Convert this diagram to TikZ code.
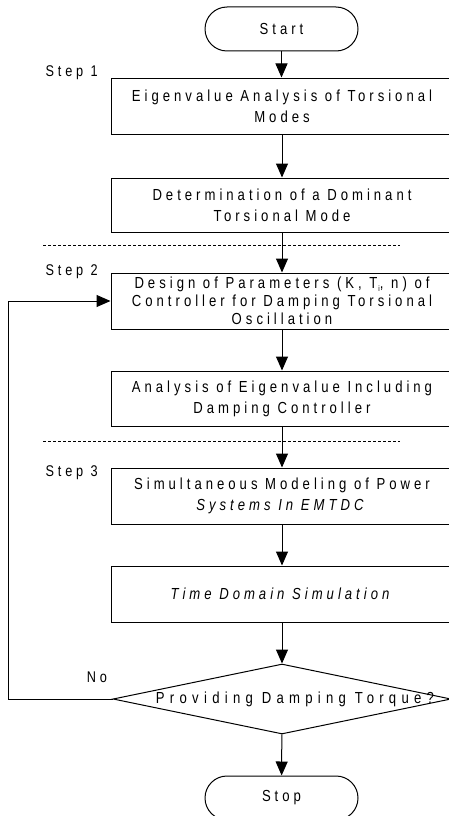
\documentclass[tikz,border=0pt]{standalone}
\usepackage{fontspec}
\setmainfont[LetterSpace=25,FakeStretch=0.82]{Liberation Sans}
\usetikzlibrary{arrows.meta,shapes.geometric}
\begin{document}
\begin{tikzpicture}[x=1pt,y=-1pt,
  line width=1pt,
  arr/.style={-{Triangle[length=14pt,width=12pt]}},
  stepbox/.style={draw,rectangle,minimum width=342pt,minimum height=56pt,inner sep=0pt,align=center,font=\fontsize{16}{21}\selectfont},
  term/.style={draw,rectangle,rounded corners=22pt,minimum width=153pt,minimum height=44pt,inner sep=0pt,font=\fontsize{16}{17}\selectfont},
  decision/.style={draw,diamond,shape aspect=4.83,minimum width=338pt,minimum height=70pt,inner sep=0pt,font=\fontsize{16}{17}\selectfont\addfontfeatures{LetterSpace=33}},
  steplabel/.style={anchor=west,inner sep=0pt,font=\fontsize{15.5}{16}\selectfont},
  sep/.style={line width=0.7pt,dash pattern=on 3pt off 2pt}]
\useasboundingbox (0,0) rectangle (449,816);
\node[term] (start) at (281.5,29) {Start};
\node[stepbox] (b1) at (282,106) {Eigenvalue Analysis of Torsional\\Modes};
\node[stepbox,minimum height=54pt] (b2) at (282,205) {Determination of a Dominant\\Torsional Mode};
\node[stepbox,font=\fontsize{16}{18}\selectfont] (b3) at (282,301) {Design of Parameters (K, T\kern1pt{\fontsize{8}{8}\selectfont\raisebox{-2.5pt}{i}}, n) of\\Controller for Damping Torsional\\Oscillation};
\node[stepbox,minimum height=55pt] (b4) at (282,398.5) {Analysis of Eigenvalue Including\\Damping Controller};
\node[stepbox] (b5) at (282,496) {Simultaneous Modeling of Power\\\textit{Systems In EMTDC}};
\node[stepbox] (b6) at (282,594) {\textit{Time Domain Simulation}};
\node[decision] (d) at (282,699) {\makebox[0pt]{\hspace*{26pt}Providing Damping Torque?}};
\node[term] (stop) at (281.5,798) {Stop};
\node[steplabel] (s1) at (45,73) {Step 1};
\node[steplabel] (s2) at (45,272) {Step 2};
\node[steplabel] (s3) at (45,473) {Step 3};
\node[inner sep=0pt,font=\fontsize{15.5}{16}\selectfont] (no) at (97,677) {No};
\coordinate (l1a) at (43,245);
\coordinate (l1b) at (400,245);
\coordinate (l2a) at (43,441.5);
\coordinate (l2b) at (400,441.5);
\draw[sep] (l1a) -- (l1b);
\draw[sep] (l2a) -- (l2b);
\draw[arr] (start) -- (start|-b1.north);
\draw[arr] (b1) -- (b2);
\draw[arr] (b2) -- (b3);
\draw[arr] (b3) -- (b4);
\draw[arr] (b4) -- (b5);
\draw[arr] (b5) -- (b6);
\draw[arr] (b6) -- (d);
\draw[arr] (d) -- (stop);
\coordinate (fb) at (8,699);
\draw[arr] (d.west) -- (fb) |- (b3.west);
\end{tikzpicture}
\end{document}
